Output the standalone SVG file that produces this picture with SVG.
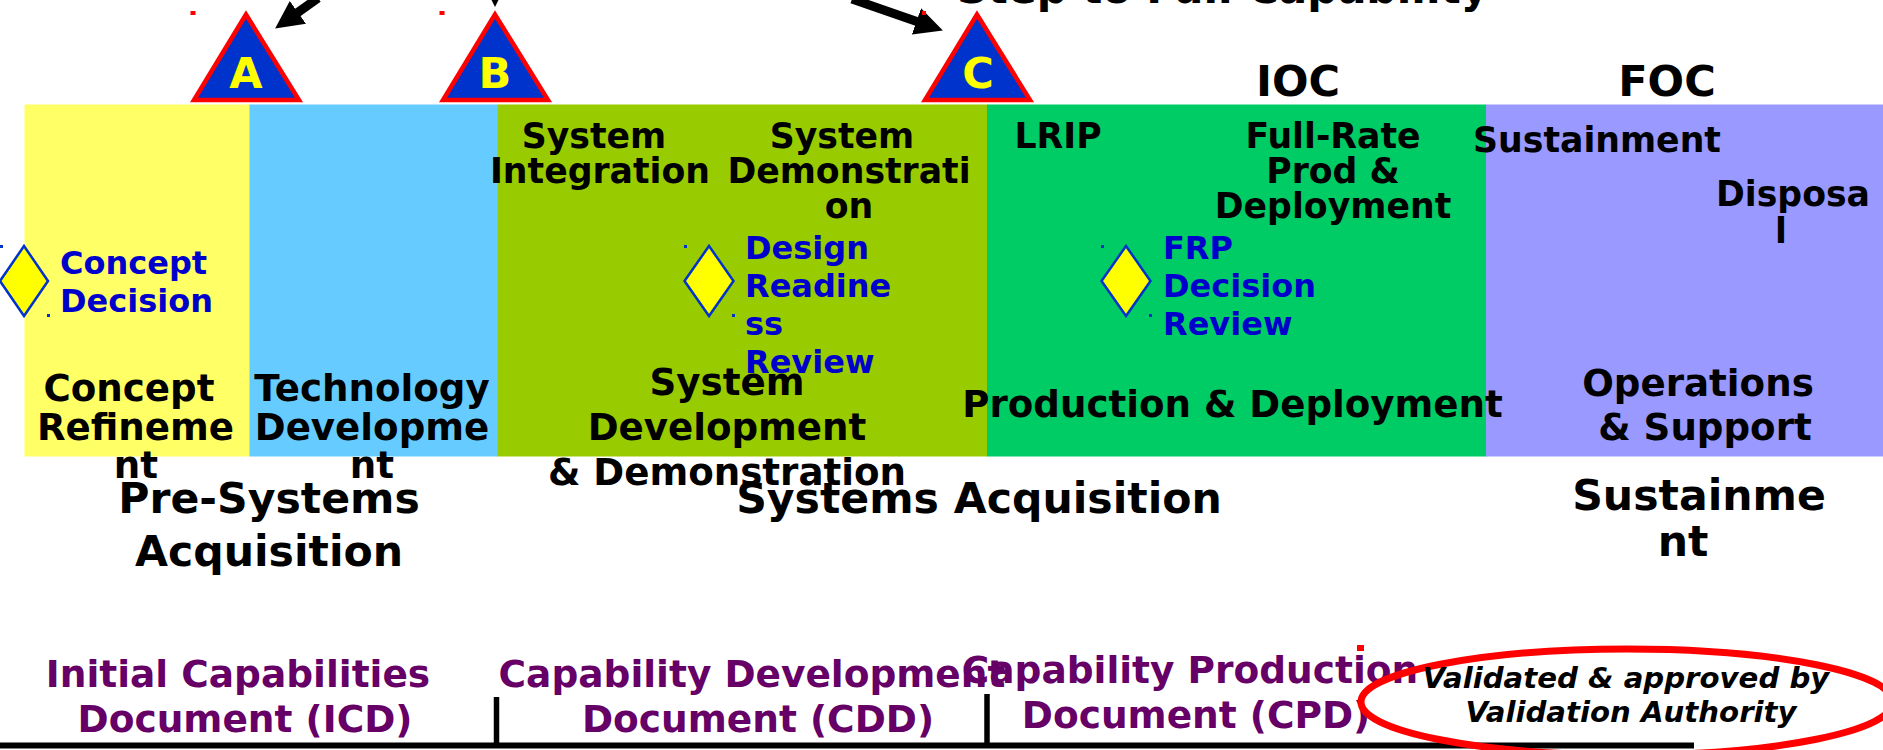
<svg xmlns="http://www.w3.org/2000/svg" width="1883" height="750" viewBox="0 0 1883 750">
<style>
text{font-family:"DejaVu Sans",sans-serif;font-weight:700;fill:#000}
.m{text-anchor:middle}
.ph{font-size:37.2px}
.sub{font-size:34.7px}
.top{font-size:43px}
.step{font-size:42.5px}
.big{font-size:42.6px}
.blue{font-size:32px;fill:#0000cc}
.doc{font-size:37.5px;fill:#660066}
.val{font-size:29.2px;font-style:italic}
.tri{fill:#0033cc;stroke:#f00;stroke-width:4.500}
.tl{font-size:43px;fill:#ff0;text-anchor:middle}
.dia{fill:#ff0;stroke:#0033cc;stroke-width:2.500}
.rd{fill:#f00}
.bd{fill:#0033cc}
</style>
<defs><marker id="ah" markerUnits="userSpaceOnUse" markerWidth="30" markerHeight="30" refX="8" refY="14" orient="auto"><path d="M0 0L28 14L0 28z" fill="#000"/></marker></defs>
<g id="bands">
<rect x="24.500" y="104.500" width="225.500" height="352" fill="#ff6"/>
<rect x="249.500" y="104.500" width="248.500" height="352" fill="#6cf"/>
<rect x="497.600" y="104.500" width="489.900" height="352" fill="#9c0"/>
<rect x="987" y="104.500" width="499.500" height="352" fill="#0c6"/>
<rect x="1486" y="104.500" width="397" height="352" fill="#99f"/>
</g>
<g id="connectors" fill="none" stroke="#000" stroke-width="9">
<line x1="318" y1="-2" x2="291.400" y2="17" marker-end="url(#ah)"/>
<line x1="495" y1="-30" x2="495" y2="-13" marker-end="url(#ah)"/>
<line x1="852" y1="-1" x2="924" y2="24" marker-end="url(#ah)"/>
<line x1="0" y1="745.500" x2="1694" y2="745.500" stroke-width="6"/>
<line x1="496.500" y1="697" x2="496.500" y2="745" stroke-width="5.500"/>
<line x1="987" y1="694" x2="987" y2="745" stroke-width="5.500"/>
</g>
<g id="milestone-a"><rect class="rd" x="190.500" y="11" width="5" height="4"/><path class="tri" d="M246 14.500L194 100H299z"/><text class="tl" x="246" y="87.500">A</text></g>
<g id="milestone-b"><rect class="rd" x="439.500" y="11" width="5" height="4"/><path class="tri" d="M495 14.500L443 100H548z"/><text class="tl" x="495" y="87.500">B</text></g>
<g id="milestone-c"><rect class="rd" x="922" y="11" width="4" height="4"/><path class="tri" d="M977 14.500L925 100H1030z"/><text class="tl" x="978" y="87.500">C</text></g>
<g id="labels-top">
<text class="step" x="957" y="3">Step to Full Capability</text>
<text class="top m" x="1298" y="95.500">IOC</text>
<text class="top m" x="1667" y="95.500">FOC</text>
</g>
<g id="activities">
<text class="sub m" x="594" y="147.500">System</text>
<text class="sub m" x="600" y="182.500">Integration</text>
<text class="sub m" x="842" y="147.500">System</text>
<text class="sub m" x="849" y="182.500">Demonstrati</text>
<text class="sub m" x="849" y="217.500">on</text>
<text class="sub m" x="1058" y="147.500">LRIP</text>
<text class="sub m" x="1333" y="147.500">Full-Rate</text>
<text class="sub m" x="1333" y="182.500">Prod &amp;</text>
<text class="sub m" x="1333" y="217.500">Deployment</text>
<text class="sub m" x="1597" y="151.500">Sustainment</text>
<text class="sub m" x="1793" y="205.500">Disposa</text>
<text class="sub m" x="1781" y="243">l</text>
</g>
<g id="decision-concept"><rect class="bd" x="0" y="245" width="3" height="3"/><rect class="bd" x="47" y="314" width="3" height="3"/><path class="dia" d="M24 246L48 281L24 316L0 281z"/><text class="blue" x="60" y="274">Concept</text><text class="blue" x="60" y="312">Decision</text></g>
<g id="decision-design"><rect class="bd" x="684" y="245" width="3" height="3"/><rect class="bd" x="732" y="314" width="3" height="3"/><path class="dia" d="M709 246L733.500 281L709 316L684.500 281z"/><text class="blue" x="745" y="259">Design</text><text class="blue" x="745" y="297">Readine</text><text class="blue" x="745" y="335">ss</text><text class="blue" x="745" y="373">Review</text></g>
<g id="decision-frp"><rect class="bd" x="1101" y="245" width="3" height="3"/><rect class="bd" x="1149" y="314" width="3" height="3"/><path class="dia" d="M1126 246L1150.500 281L1126 316L1101.500 281z"/><text class="blue" x="1163" y="259">FRP</text><text class="blue" x="1163" y="297">Decision</text><text class="blue" x="1163" y="335">Review</text></g>
<g id="phases">
<text class="ph m" x="129" y="400.500">Concept</text>
<text class="ph m" x="135.500" y="439.500">Refineme</text>
<text class="ph m" x="136" y="477.500">nt</text>
<text class="ph m" x="372" y="400.500">Technology</text>
<text class="ph m" x="372" y="439.500">Developme</text>
<text class="ph m" x="372" y="477.500">nt</text>
<text class="ph m" x="727" y="394.500">System</text>
<text class="ph m" x="727" y="439.500">Development</text>
<text class="ph m" x="727" y="484.500">&amp; Demonstration</text>
<text class="ph m" x="1232.500" y="417">Production &amp; Deployment</text>
<text class="ph m" x="1698" y="395.500">Operations</text>
<text class="ph m" x="1705" y="439.500">&amp; Support</text>
</g>
<g id="groups">
<text class="big m" x="269" y="513">Pre-Systems</text>
<text class="big m" x="269" y="566">Acquisition</text>
<text class="big m" x="979" y="513">Systems Acquisition</text>
<text class="big m" x="1699" y="510">Sustainme</text>
<text class="big m" x="1683" y="556">nt</text>
</g>
<g id="documents">
<text class="doc m" x="238" y="687">Initial Capabilities</text>
<text class="doc m" x="245" y="732">Document (ICD)</text>
<text class="doc m" x="752" y="687">Capability Development</text>
<text class="doc m" x="758" y="732">Document (CDD)</text>
<text class="doc m" x="1190" y="683">Capability Production</text>
<text class="doc m" x="1196" y="728">Document (CPD)</text>
</g>
<g id="validation">
<rect class="rd" x="1357" y="645" width="7" height="6"/>
<ellipse cx="1627" cy="702" rx="266" ry="53" fill="none" stroke="#f00" stroke-width="7"/>
<text class="val m" x="1626" y="688">Validated &amp; approved by</text>
<text class="val m" x="1631" y="722">Validation Authority</text>
</g>
</svg>
